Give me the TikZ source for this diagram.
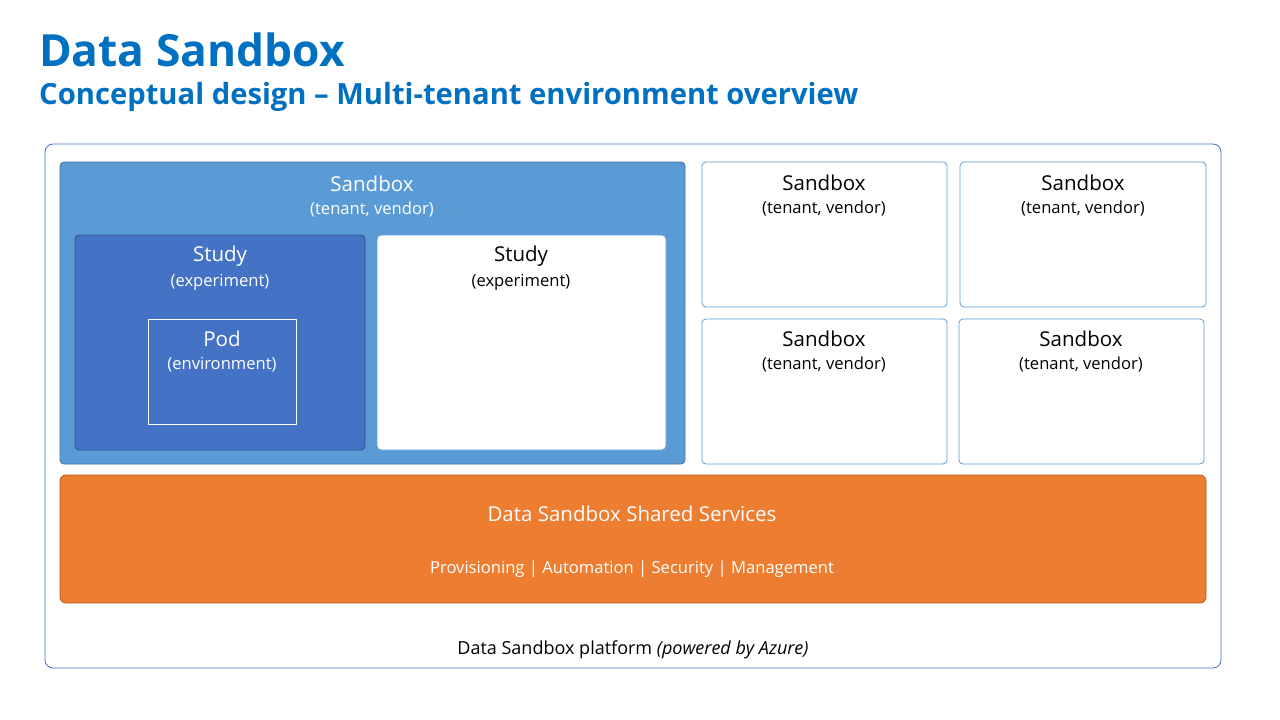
\documentclass[tikz,border=0pt]{standalone}
\usepackage{fontspec}
\setmainfont{Open Sans}
\definecolor{titleblue}{HTML}{0070C0}
\definecolor{platline}{HTML}{4472C4}
\definecolor{sbfill}{HTML}{5B9BD5}
\definecolor{sbline}{HTML}{41719C}
\definecolor{stfill}{HTML}{4472C4}
\definecolor{stline}{HTML}{2F528F}
\definecolor{orfill}{HTML}{ED7D31}
\definecolor{orline}{HTML}{AE5A21}
\begin{document}
\begin{tikzpicture}[x=1pt,y=-1pt,
  box/.style={rounded corners=4pt,line width=0.8pt},
  big/.style={font=\fontsize{20.5}{24}\selectfont,inner sep=0pt},
  small/.style={font=\fontsize{16.6}{20}\selectfont,inner sep=0pt}]
\useasboundingbox[fill=white] (0,0) rectangle (1280,720);
% titles
\node[anchor=base west,inner sep=0pt,text=titleblue,font=\fontsize{44.3}{50}\selectfont\bfseries] (title) at (39,66) {Data Sandbox};
\node[anchor=base west,inner sep=0pt,text=titleblue,font=\fontsize{29.2}{34}\selectfont\bfseries] (subtitle) at (39,104) {Conceptual design – Multi-tenant environment overview};
% platform
\draw[box,rounded corners=8pt,draw=platline] (45,144) rectangle (1221,668);
\coordinate (plat) at (633,650);
\node[font=\fontsize{18}{21}\selectfont,inner sep=0pt,text=black] (platt) at (plat) {Data Sandbox platform \textit{(powered by Azure)}};
% big sandbox
\draw[box,fill=sbfill,draw=sbline] (60,162) rectangle (685,464);
\node[big,text=white] (sb0) at (372,184) {Sandbox};
\node[small,text=white] (sb0s) at (372,210) {(tenant, vendor)};
% study 1
\draw[box,fill=stfill,draw=stline] (75,235) rectangle (365,450);
\node[big,text=white] (st1) at (220,256) {Study};
\node[small,text=white] (st1s) at (220,282) {(experiment)};
% pod
\draw[line width=0.8pt,draw=white] (148,319) rectangle (296,424);
\node[big,text=white] (pod) at (222,339) {Pod};
\node[small,text=white] (pods) at (222,365) {(environment)};
% study 2
\draw[box,fill=white,draw=sbfill] (377,235) rectangle (666,450);
\node[big,text=black] (st2) at (521,256) {Study};
\node[small,text=black] (st2s) at (521,282) {(experiment)};
% small sandboxes
\draw[box,draw=sbfill] (702,162) rectangle (947,307);
\node[big] (sb1) at (824,183) {Sandbox};
\node[small] (sb1s) at (824,209) {(tenant, vendor)};
\draw[box,draw=sbfill] (960,162) rectangle (1206,307);
\node[big] (sb2) at (1083,183) {Sandbox};
\node[small] (sb2s) at (1083,209) {(tenant, vendor)};
\draw[box,draw=sbfill] (702,319) rectangle (947,464);
\node[big] (sb3) at (824,339) {Sandbox};
\node[small] (sb3s) at (824,365) {(tenant, vendor)};
\draw[box,draw=sbfill] (959,319) rectangle (1204,464);
\node[big] (sb4) at (1081,339) {Sandbox};
\node[small] (sb4s) at (1081,365) {(tenant, vendor)};
% shared services
\draw[box,rounded corners=6pt,fill=orfill,draw=orline] (60,475) rectangle (1206,603);
\node[big,text=white] (ss) at (632,514) {Data Sandbox Shared Services};
\node[small,text=white] (sss) at (632,569) {Provisioning | Automation | Security | Management};
\end{tikzpicture}
\end{document}
